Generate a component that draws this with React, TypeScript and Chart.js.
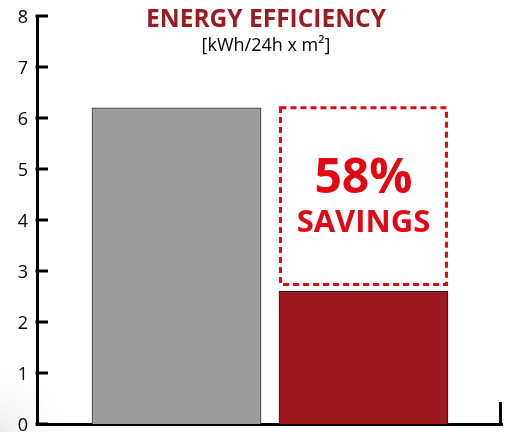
import React, { useEffect, useRef } from 'react';
import { Chart, registerables } from 'chart.js';

Chart.register(...registerables);

const categories = ['Conventional', 'Efficient'];
const categoryPositions = [1, 2];
const values = [6.2, 2.6];
const yMin = 0;
const yMax = 8;
const yStep = 1;
const barColors = ['#9d9d9d', '#9e1820'];
const barBorders = ['#333333', '#3b1416'];
const titleText = 'ENERGY EFFICIENCY';
const subtitleText = '[kWh/24h x m²]';
const savingsLabel = 'SAVINGS';

const FONT = '"Open Sans", "Noto Sans", sans-serif';

const backgroundPlugin = {
  id: 'bg',
  beforeDraw(chart: any) {
    const ctx = chart.ctx;
    ctx.save();
    ctx.fillStyle = '#ffffff';
    ctx.fillRect(0, 0, chart.width, chart.height);
    const g = ctx.createRadialGradient(0, chart.height, 0, 0, chart.height, 75);
    g.addColorStop(0, 'rgba(200,200,200,0.35)');
    g.addColorStop(1, 'rgba(255,255,255,0)');
    ctx.fillStyle = g;
    ctx.fillRect(0, chart.height - 80, 80, 80);
    ctx.restore();
  },
};

const overlayPlugin = {
  id: 'overlay',
  afterDraw(chart: any) {
    const ctx = chart.ctx;
    const { left, right, bottom } = chart.chartArea;
    const yScale = chart.scales.y;
    ctx.save();
    // inward y ticks
    ctx.strokeStyle = '#000';
    ctx.lineWidth = 3;
    yScale.ticks.forEach((t: any) => {
      const y = yScale.getPixelForValue(t.value);
      ctx.beginPath();
      ctx.moveTo(left - 1.5, y);
      ctx.lineTo(left + 11, y);
      ctx.stroke();
    });
    // right end tick of x axis
    ctx.beginPath();
    ctx.moveTo(right - 1.5, bottom + 1.5);
    ctx.lineTo(right - 1.5, bottom - 22);
    ctx.stroke();

    // dashed savings box
    const meta = chart.getDatasetMeta(0);
    const bar = meta.data[1] as any;
    const half = bar.width / 2;
    const boxTop = yScale.getPixelForValue(values[0]);
    const boxBottom = bar.y - 7;
    const bx0 = bar.x - half + 1.5;
    const bx1 = bar.x + half - 1.5;
    ctx.strokeStyle = '#e30613';
    ctx.lineWidth = 3;
    ctx.setLineDash([6, 4]);
    ctx.strokeRect(bx0, boxTop, bx1 - bx0, boxBottom - boxTop);
    ctx.setLineDash([]);

    const pct = Math.round((1 - values[1] / values[0]) * 100);
    ctx.fillStyle = '#e30613';
    ctx.textAlign = 'center';
    ctx.textBaseline = 'alphabetic';
    ctx.font = `bold 48px ${FONT}`;
    ctx.fillText(`${pct}%`, bar.x, 193);
    ctx.font = `bold 31px ${FONT}`;
    ctx.fillText(savingsLabel, bar.x, 232);

    // title
    ctx.fillStyle = '#9b1b21';
    ctx.font = `bold 24.5px ${FONT}`;
    ctx.fillText(titleText, 266, 27);
    ctx.fillStyle = '#000';
    ctx.font = `18px ${FONT}`;
    ctx.fillText(subtitleText, 266, 51);
    ctx.restore();
  },
};

export default function App() {
  const ref = useRef<HTMLCanvasElement | null>(null);
  useEffect(() => {
    document.body.style.margin = '0';
    const canvas = ref.current;
    if (!canvas) return;
    const chart = new Chart(canvas, {
      type: 'bar',
      data: {
        labels: categories,
        datasets: [
          {
            label: 'Energy',
            data: values.map((v, i) => ({ x: categoryPositions[i], y: v })) as any,
            backgroundColor: barColors,
            borderColor: barBorders,
            borderWidth: 1,
            barThickness: 169,
          },
        ],
      },
      options: {
        animation: false,
        responsive: false,
        layout: { padding: { left: 0, right: 10, top: 16, bottom: 8 } },
        plugins: { legend: { display: false }, tooltip: { enabled: false }, title: { display: false } },
        scales: {
          x: {
            type: 'linear',
            min: 0.254,
            max: 2.741,
            offset: false,
            grid: { display: false, drawTicks: false },
            border: { display: true, color: '#000', width: 3 },
            ticks: { display: false },
            afterFit: (s: any) => {
              s.height = 0;
              s.paddingLeft = 0;
              s.paddingRight = 0;
            },
          },
          y: {
            min: yMin,
            max: yMax,
            ticks: { stepSize: yStep, color: '#000', font: { family: FONT, size: 18 }, padding: 9, labelOffset: 2 },
            grid: { display: false, drawTicks: false },
            border: { display: true, color: '#000', width: 3 },
            afterFit: (s: any) => {
              s.width = 37;
              s.paddingTop = 0;
              s.paddingBottom = 0;
            },
          },
        },
      },
      plugins: [backgroundPlugin, overlayPlugin],
    });
    return () => chart.destroy();
  }, []);
  return (
    <div style={{ width: 512, height: 432, background: '#fff' }}>
      <canvas ref={ref} width={512} height={432} />
    </div>
  );
}
